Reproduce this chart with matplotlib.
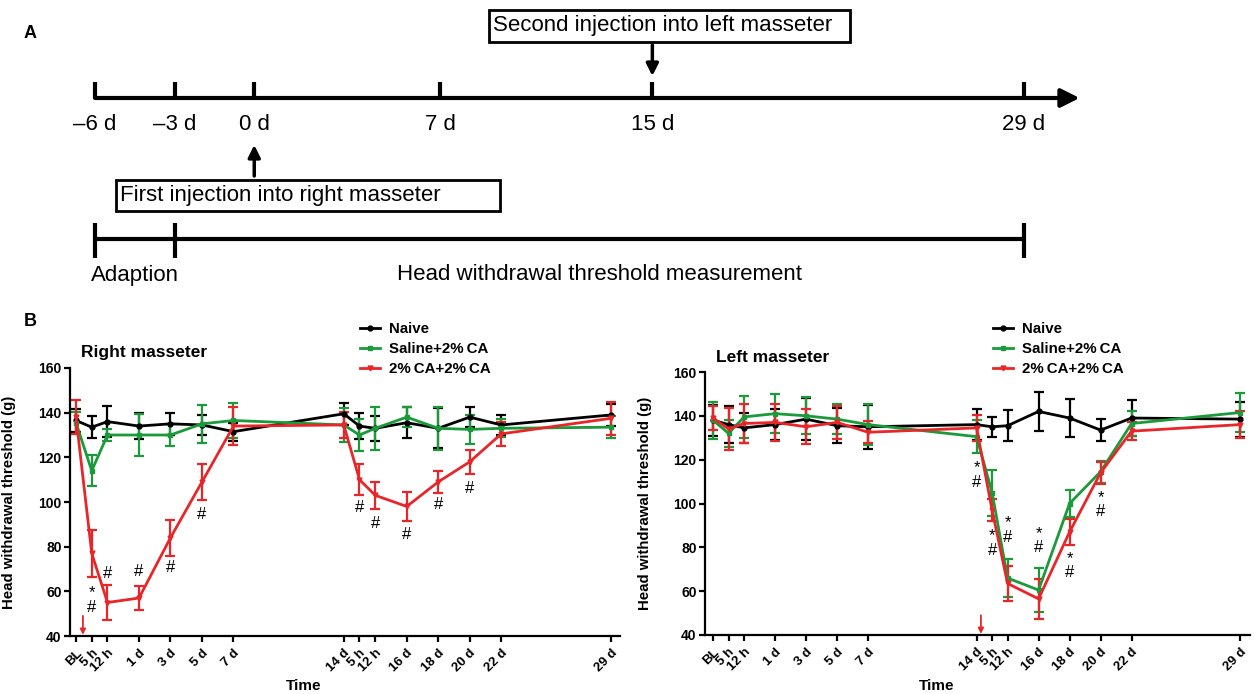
import numpy as np
import matplotlib
matplotlib.use('Agg')
import matplotlib.pyplot as plt
from matplotlib.patches import Rectangle
from matplotlib.lines import Line2D

# panel A timeline (days)
tl_days = [-6, -3, 0, 7, 15, 29]
tl_labels = ['\u20136 d', '\u20133 d', '0 d', '7 d', '15 d', '29 d']
adapt_span = [-6, -3]
measure_span = [-3, 29]
first_inj_day = 0
second_inj_day = 15

# panel B
time_labels = ['BL', '5 h', '12 h', '1 d', '3 d', '5 d', '7 d', '14 d', '5 h', '12 h',
               '16 d', '18 d', '20 d', '22 d', '29 d']
time_pos = [0, 0.5, 1, 2, 3, 4, 5, 8.5, 9, 9.5, 10.5, 11.5, 12.5, 13.5, 17]

# right masseter
naive_r = [136.5, 133.5, 136, 134, 135, 134.5, 131.5, 139.5, 134, 133, 135.5, 133, 138, 134.5, 139]
naive_r_err = [5, 5, 7, 6, 5, 4.5, 4, 5, 6, 5.5, 7, 9, 4.5, 4.5, 5]
saline_r = [135.5, 114, 130, 130, 130, 135, 136.5, 134.5, 130, 133, 138, 133, 132.5, 133, 133.5]
saline_r_err = [5, 7, 2.5, 9.5, 5, 8.5, 8, 7.5, 7, 9.5, 4.5, 9.5, 6.5, 4, 5]
ca_r = [138, 77, 55, 57, 84, 109, 134, 134.5, 110, 103, 98, 109, 118, 130.5, 137.5]
ca_r_err = [7.5, 10.5, 8, 5.5, 8, 8, 8.5, 6, 7, 6, 6.5, 5, 5.5, 5.5, 7.5]
ann_r_idx = [1, 2, 3, 4, 5, 8, 9, 10, 11, 12]
ann_r_txt = ['*\n#', '#', '#', '#', '#', '#', '#', '#', '#', '#']
ann_r_y = [56, 68, 69, 70.5, 94.5, 97.5, 90.5, 85.5, 99, 106]
inj_r_x = 0.22

# left masseter
naive_l = [138, 136, 134.5, 136, 138.5, 135.5, 135, 136, 135, 135.5, 142, 139, 133.5, 139, 138.5]
naive_l_err = [7, 8.5, 7, 7, 9.5, 8, 10, 7, 4.5, 7, 9, 8.5, 5, 8, 8]
saline_l = [138, 132, 139.5, 141, 140, 138.5, 136, 130.5, 105, 66, 60.5, 100, 114.5, 136.5, 141.5]
saline_l_err = [8.5, 6, 9.5, 9, 8.5, 7, 9.5, 7.5, 10.5, 8.5, 10, 6, 5, 5.5, 9]
ca_l = [139, 134, 136.5, 137, 135, 137, 132.5, 134.5, 97, 63.5, 56.5, 87, 114, 133, 136]
ca_l_err = [5.5, 9.5, 9, 8.5, 8, 7.5, 5, 6, 5, 8, 9, 6, 5, 4, 6]
ann_l_idx = [7, 8, 9, 10, 11, 12]
ann_l_txt = ['*\n#'] * 6
ann_l_y = [113, 82, 88, 83, 71.7, 99.5]
inj_l_x = 8.64

legend_names = ['Naive', 'Saline+2%\u2009CA', '2%\u2009CA+2%\u2009CA']
colors = ['black', '#1a9a3a', '#e8262a']
markers = ['o', 's', 'v']

plt.rcParams['font.family'] = ['Liberation Sans', 'DejaVu Sans']
a_size = 16

fig = plt.figure(figsize=(12.54, 6.94), dpi=100)

# ---------------- panel A ----------------
axa = fig.add_axes([0, 1 - 300 / 694, 1, 300 / 694])
axa.set_xlim(-9.58, 37.67)
axa.set_ylim(300, 0)
axa.axis('off')

axa.annotate('', xy=(31.1, 98), xytext=(tl_days[0], 98),
             arrowprops=dict(arrowstyle='-|>', lw=3, color='k', mutation_scale=28,
                             shrinkA=0, shrinkB=0))
axa.vlines(tl_days, 82, 98, color='k', lw=3)
for d, lab in zip(tl_days, tl_labels):
    axa.text(d, 124, lab, ha='center', va='center', fontsize=a_size)

axa.annotate('', xy=(first_inj_day, 145), xytext=(first_inj_day, 176),
             arrowprops=dict(arrowstyle='-|>', lw=2.5, color='k', mutation_scale=18,
                             shrinkA=0, shrinkB=0))
axa.annotate('', xy=(second_inj_day, 76), xytext=(second_inj_day, 45),
             arrowprops=dict(arrowstyle='-|>', lw=2.5, color='k', mutation_scale=18,
                             shrinkA=0, shrinkB=0))

axa.add_patch(Rectangle((-5.21, 180), 14.47, 31, fill=False, ec='k', lw=2))
axa.text(-5.05, 196, 'First injection into right masseter', ha='left', va='center',
         fontsize=a_size)
axa.add_patch(Rectangle((8.85, 10), 13.6, 32, fill=False, ec='k', lw=2))
axa.text(9.0, 26, 'Second injection into left masseter', ha='left', va='center',
         fontsize=a_size)

axa.hlines(239, measure_span[0], measure_span[1], color='k', lw=3)
axa.hlines(239, adapt_span[0], adapt_span[1], color='k', lw=3)
axa.vlines([adapt_span[0], adapt_span[1], measure_span[1]], 223, 258, color='k', lw=3)
axa.text(np.mean(adapt_span), 275, 'Adaption', ha='center', va='center', fontsize=a_size)
axa.text(np.mean(measure_span), 275, 'Head withdrawal threshold measurement',
         ha='center', va='center', fontsize=a_size)

fig.text(30 / 1254, 1 - 33 / 694, 'A', fontsize=13, fontweight='bold', ha='center', va='center')
fig.text(30 / 1254, 1 - 322 / 694, 'B', fontsize=13, fontweight='bold', ha='center', va='center')


# ---------------- panel B ----------------
def draw_panel(ax, series, errs, ann_idx, ann_txt, ann_y, inj_x, title, leg_anchor, time_y):
    handles = []
    for vals, err, c, m, name in zip(series, errs, colors, markers, legend_names):
        ax.errorbar(time_pos, vals, yerr=err, color=c, marker=m, markersize=3.5,
                    lw=2, elinewidth=1.6, capsize=3.5, capthick=1.6)
        handles.append(Line2D([], [], color=c, marker=m, markersize=3.5, lw=2, label=name))
    for i, t, y in zip(ann_idx, ann_txt, ann_y):
        ax.text(time_pos[i], y, t, ha='center', va='center', fontsize=12,
                linespacing=0.95)
    ax.annotate('', xy=(inj_x, 40.5), xytext=(inj_x, 49),
                arrowprops=dict(arrowstyle='-|>', color='#e8262a', lw=1.3,
                                mutation_scale=8, shrinkA=0, shrinkB=0))
    ax.set_ylim(40, 160)
    ax.set_yticks(np.arange(40, 161, 20))
    ax.set_xticks(time_pos)
    ax.set_xticklabels(time_labels, rotation=45, ha='right', rotation_mode='anchor',
                       fontsize=9.5, fontweight='bold')
    for lab in ax.get_yticklabels():
        lab.set_fontweight('bold')
        lab.set_fontsize(10)
    ax.spines['top'].set_visible(False)
    ax.spines['right'].set_visible(False)
    ax.spines['left'].set_linewidth(1.6)
    ax.spines['bottom'].set_linewidth(1.6)
    ax.tick_params(width=1.6, length=4, pad=2)
    ax.tick_params(axis='x', pad=4)
    ax.set_ylabel('Head withdrawal threshold (g)', fontsize=10.8, fontweight='bold')
    ax.yaxis.set_label_coords(-0.098, 0.5)
    ax.set_xlabel('Time', fontsize=11, fontweight='bold')
    ax.xaxis.set_label_coords(0.425, time_y)
    ax.text(0.02, 1.056, title, transform=ax.transAxes, fontsize=12.5, fontweight='bold',
            ha='left', va='center')
    fig.legend(handles=handles, loc='upper left', bbox_to_anchor=leg_anchor,
               frameon=False, prop={'weight': 'bold', 'size': 10.8},
               handlelength=1.35, labelspacing=0.4, handletextpad=0.6, borderaxespad=0,
               borderpad=0)


ax1 = fig.add_axes([70 / 1254, 58 / 694, 550 / 1254, 268 / 694])
ax1.set_xlim(-0.19, 17.27)
draw_panel(ax1, [naive_r, saline_r, ca_r], [naive_r_err, saline_r_err, ca_r_err],
           ann_r_idx, ann_r_txt, ann_r_y, inj_r_x, 'Right masseter',
           (360 / 1254, 1 - 322 / 694), -0.16)

ax2 = fig.add_axes([705 / 1254, 59 / 694, 545 / 1254, 263 / 694])
ax2.set_xlim(-0.26, 17.32)
draw_panel(ax2, [naive_l, saline_l, ca_l], [naive_l_err, saline_l_err, ca_l_err],
           ann_l_idx, ann_l_txt, ann_l_y, inj_l_x, 'Left masseter',
           (993 / 1254, 1 - 322 / 694), -0.168)

fig.savefig('out.png', dpi=100)
